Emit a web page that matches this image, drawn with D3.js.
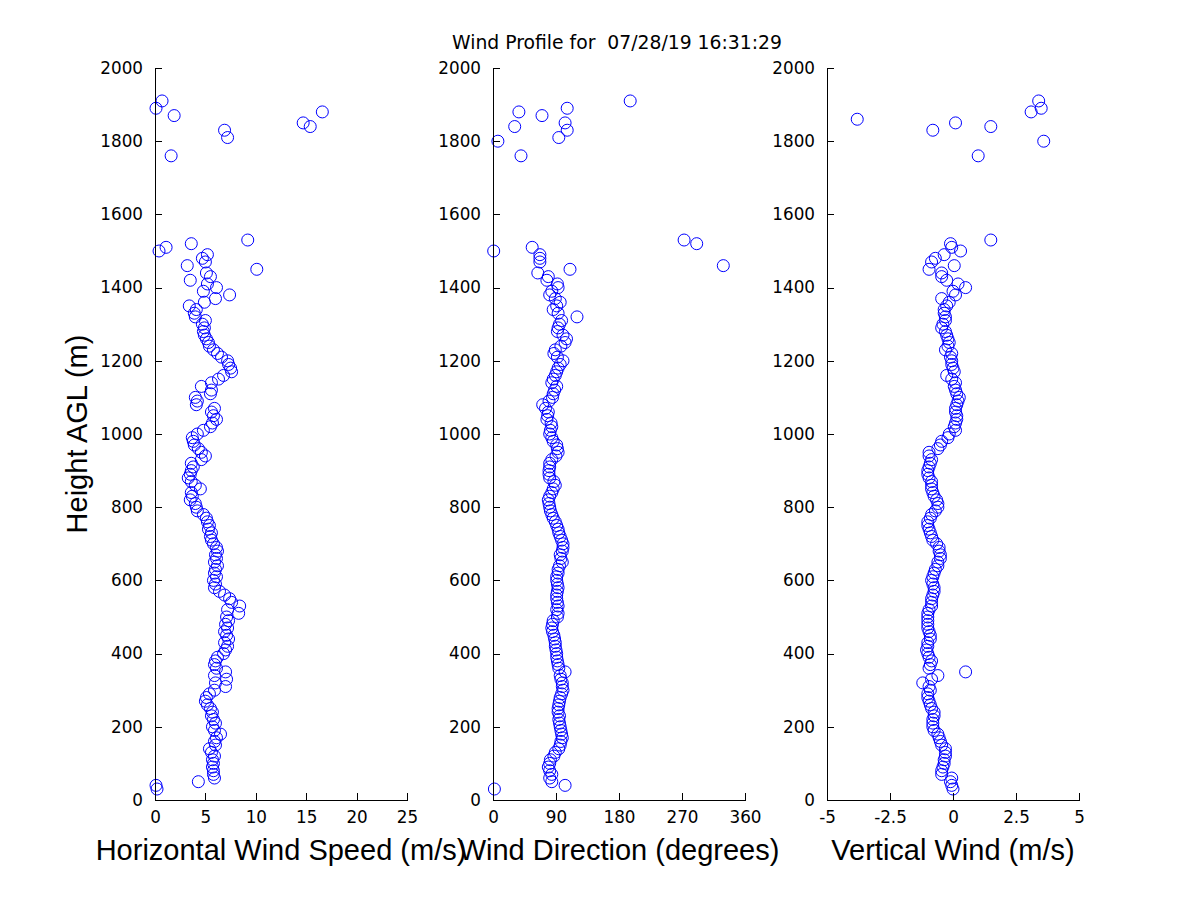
<!DOCTYPE html>
<html lang="en">
<head>
<meta charset="UTF-8">
<script src="https://d3js.org/d3.v7.min.js"></script>
<style>
    body { margin: 0; background: #fff; }
    .tick text { font-family: "DejaVu Sans", sans-serif; font-size: 16.8px; fill: #000; }
    .domain, .tick line { stroke: #000; stroke-width: 1px; shape-rendering: crispEdges; }
    .pt { fill: none; stroke: #0000ff; stroke-width: 1px; }
</style>
</head>
<body>
<script>
// heights above ground level (m), lidar gates
var heights = [
    30, 40, 50, 60, 70, 80, 90, 100, 110, 120,
    130, 140, 150, 160, 170, 180, 190, 200, 210, 220,
    230, 240, 250, 260, 270, 280, 290, 300, 310, 320,
    330, 340, 350, 360, 370, 380, 390, 400, 410, 420,
    430, 440, 450, 460, 470, 480, 490, 500, 510, 520,
    530, 540, 550, 560, 570, 580, 590, 600, 610, 620,
    630, 640, 650, 660, 670, 680, 690, 700, 710, 720,
    730, 740, 750, 760, 770, 780, 790, 800, 810, 820,
    830, 840, 850, 860, 870, 880, 890, 900, 910, 920,
    930, 940, 950, 960, 970, 980, 990, 1000, 1010, 1020,
    1030, 1040, 1050, 1060, 1070, 1080, 1090, 1100, 1110, 1120,
    1130, 1140, 1150, 1160, 1170, 1180, 1190, 1200, 1210, 1220,
    1230, 1240, 1250, 1260, 1270, 1280, 1290, 1300, 1310, 1320,
    1330, 1340, 1350, 1360, 1370, 1380, 1390, 1400, 1410, 1420,
    1430, 1440, 1450, 1460, 1470, 1480, 1490, 1500, 1510, 1520,
    1530,
    1760, 1800, 1810, 1830, 1840, 1850, 1860, 1870, 1880, 1890, 1910
];

// horizontal wind speed (m/s)
var speed = [
    0.2, 0.1, 4.3, 5.9, 5.8, 5.8, 5.7, 5.8, 5.7, 5.9,
    5.6, 5.4, 6.0, 5.9, 6.1, 6.5, 5.9, 5.7, 6.0, 5.8,
    5.6, 5.7, 5.5, 5.2, 5.0, 5.1, 5.4, 5.9, 7.0, 6.0,
    7.1, 5.9, 7.0, 6.1, 5.9, 6.0, 6.2, 6.8, 7.0, 7.2,
    6.9, 7.3, 7.1, 6.9, 7.2, 7.0, 7.3, 7.1, 8.3, 7.2,
    8.4, 7.6, 7.4, 6.9, 6.4, 5.9, 6.0, 5.8, 6.1, 5.9,
    6.0, 6.2, 5.9, 6.1, 6.0, 6.2, 6.1, 5.8, 5.6, 5.5,
    5.6, 5.3, 5.4, 5.2, 5.1, 4.8, 4.2, 4.1, 4.0, 3.5,
    3.7, 3.6, 4.5, 4.0, 3.6, 3.3, 3.5, 3.6, 3.8, 3.6,
    4.6, 5.0, 4.6, 4.3, 3.9, 3.8, 3.7, 4.2, 4.8, 5.5,
    5.7, 6.1, 5.8, 5.6, 5.9, 4.1, 4.2, 4.0, 5.5, 5.6,
    4.6, 5.6, 6.3, 6.8, 7.6, 7.5, 7.3, 7.2, 6.6, 6.2,
    5.8, 5.4, 5.3, 5.1, 4.9, 4.8, 4.9, 4.7, 5.0, 4.0,
    3.9, 4.1, 3.4, 4.9, 6.0, 7.4, 4.8, 6.1, 5.2, 3.5,
    5.5, 5.1, 10.1, 3.2, 5.0, 4.7, 5.2, 0.4, 1.1, 3.6,
    9.2,
    1.6, null, 7.2, 6.9, 15.4, 14.7, null, 1.9, 16.6, 0.1, 0.7
];

// wind direction (degrees)
var direction = [
    2, 103, 84, 81, 84, 81, 79, 81, 82, 87,
    89, 94, 96, 97, 99, 98, 97, 96, 95, 94,
    95, 93, 93, 94, 95, 96, 98, 100, 99, 99,
    97, 96, 103, 94, 93, 92, 91, 91, 90, 89,
    89, 88, 87, 85, 84, 85, 86, 92, 93, 91,
    93, 92, 91, 91, 92, 93, 92, 91, 91, 93,
    93, 95, 99, 97, 96, 99, 100, 100, 98, 96,
    94, 93, 91, 89, 86, 84, 82, 81, 80, 79,
    81, 84, 86, 89, 87, 81, 80, 80, 81, 81,
    84, 90, 93, 92, 91, 86, 84, 81, 82, 84,
    83, 77, 78, 79, 75, 71, 80, 85, 86, 88,
    91, 84, 86, 89, 91, 93, 96, 100, 92, 87,
    89, 97, 103, 105, 100, 92, 93, 95, 98, 120,
    93, 86, 91, 96, 89, 81, 84, 93, 92, 77,
    79, 64, 110, 329, 67, 67, 67, 1, 56, 291,
    273,
    40, 7, 94, 106, 31, 103, null, 70, 37, 106, 196
];

// vertical wind (m/s)
var vertical = [
    0.0, -0.05, -0.1, -0.05, -0.45, -0.45, -0.4, -0.35, -0.35, -0.3,
    -0.3, -0.3, -0.45, -0.5, -0.55, -0.6, -0.75, -0.8, -0.8, -0.8,
    -0.75, -0.75, -0.85, -0.9, -0.95, -1.0, -1.0, -0.9, -0.95, -1.2,
    -0.85, -0.6, 0.5, -0.95, -0.9, -0.85, -0.95, -1.0, -1.05, -1.0,
    -1.0, -0.9, -0.9, -0.95, -1.0, -1.0, -1.0, -1.0, -1.0, -0.95,
    -0.85, -0.85, -0.85, -0.8, -0.75, -0.75, -0.8, -0.85, -0.8, -0.75,
    -0.7, -0.6, -0.6, -0.5, -0.5, -0.55, -0.55, -0.65, -0.8, -0.85,
    -0.9, -0.95, -1.0, -1.0, -0.9, -0.85, -0.7, -0.6, -0.6, -0.65,
    -0.75, -0.8, -0.85, -0.85, -0.85, -0.95, -1.0, -1.0, -0.95, -0.9,
    -0.85, -0.95, -0.95, -0.6, -0.5, -0.45, -0.2, -0.15, 0.1, 0.05,
    0.1, 0.15, 0.15, 0.1, 0.1, 0.15, 0.2, 0.25, 0.15, 0.1,
    0.05, 0.1, -0.05, -0.25, 0.05, 0.0, -0.05, -0.05, -0.1, -0.05,
    -0.3, -0.2, -0.15, -0.2, -0.25, -0.3, -0.45, -0.4, -0.3, -0.3,
    -0.35, -0.35, -0.25, -0.15, -0.45, 0.1, 0.0, 0.5, 0.2, -0.25,
    -0.45, -0.45, -0.95, 0.05, -0.85, -0.7, -0.35, 0.3, -0.05, -0.1,
    1.5,
    1.0, 3.6, null, -0.8, 1.5, 0.1, -3.8, null, 3.1, 3.5, 3.4
];

var heightTicks = [0, 200, 400, 600, 800, 1000, 1200, 1400, 1600, 1800, 2000];
var speedTicks = [0, 5, 10, 15, 20, 25];
var directionTicks = [0, 90, 180, 270, 360];
var verticalTicks = [-5, -2.5, 0, 2.5, 5];

var titleText = "Wind Profile for  07/28/19 16:31:29";

var width = 1200, height = 900;
var plotTop = 68, plotBottom = 800, panelW = 252;

var panels = [
    { left: 155, values: speed, domain: [0, 25], ticks: speedTicks, label: "Horizontal Wind Speed (m/s)" },
    { left: 493, values: direction, domain: [0, 360], ticks: directionTicks, label: "Wind Direction (degrees)" },
    { left: 827, values: vertical, domain: [-5, 5], ticks: verticalTicks, label: "Vertical Wind (m/s)" }
];

var svg = d3.select("body").append("svg")
    .attr("width", width)
    .attr("height", height)
    .style("display", "block");

svg.append("rect").attr("width", width).attr("height", height).attr("fill", "#fff");

var y = d3.scaleLinear().domain([0, 2000]).range([plotBottom, plotTop]);

panels.forEach(function (p) {
    var x = d3.scaleLinear().domain(p.domain).range([p.left, p.left + panelW]);

    var g = svg.append("g");

    var pts = heights.map(function (h, j) { return { h: h, v: p.values[j] }; })
        .filter(function (d) { return d.v !== null; });

    g.selectAll("circle")
        .data(pts)
        .enter().append("circle")
        .attr("class", "pt")
        .attr("cx", function (d) { return x(d.v); })
        .attr("cy", function (d) { return y(d.h); })
        .attr("r", 6);

    g.append("g")
        .attr("transform", "translate(" + p.left + ",0)")
        .call(d3.axisLeft(y).tickValues(heightTicks).tickFormat(d3.format("d"))
            .tickSizeInner(-7).tickSizeOuter(0).tickPadding(12));

    g.append("g")
        .attr("transform", "translate(0," + plotBottom + ")")
        .call(d3.axisBottom(x).tickValues(p.ticks).tickFormat(function (d) { return String(d); })
            .tickSizeInner(-7).tickSizeOuter(0).tickPadding(11));

    g.append("text")
        .attr("x", p.left + panelW / 2)
        .attr("y", 860)
        .attr("text-anchor", "middle")
        .style("font-family", "'Liberation Sans', Arial, sans-serif")
        .style("font-size", "29px")
        .text(p.label);
});

svg.append("text")
    .attr("transform", "translate(87," + ((plotTop + plotBottom) / 2) + ") rotate(-90)")
    .attr("text-anchor", "middle")
    .style("font-family", "'Liberation Sans', Arial, sans-serif")
    .style("font-size", "29px")
    .text("Height AGL (m)");

svg.append("text")
    .attr("x", 617)
    .attr("y", 49)
    .attr("text-anchor", "middle")
    .style("font-family", "'DejaVu Sans', sans-serif")
    .style("font-size", "18.8px")
    .style("white-space", "pre")
    .attr("xml:space", "preserve")
    .text(titleText);
</script>
</body>
</html>
